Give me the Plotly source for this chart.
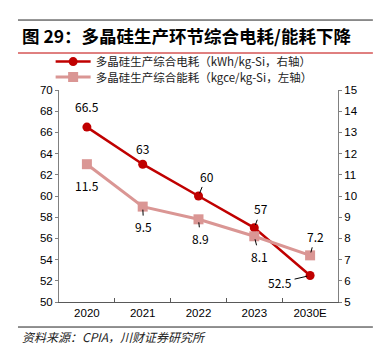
import plotly.graph_objects as go

categories = ["2020", "2021", "2022", "2023", "2030E"]
power = [66.5, 63, 60, 57, 52.5]          # kWh/kg-Si (plotted on left scale)
energy = [11.5, 9.5, 8.9, 8.1, 7.2]       # kgce/kg-Si (plotted on right scale)
power_name = "多晶硅生产综合电耗（kWh/kg-Si，右轴）"
energy_name = "多晶硅生产综合能耗（kgce/kg-Si，左轴）"
title_text = "图 29：多晶硅生产环节综合电耗/能耗下降"
source_text = "资料来源：CPIA，川财证券研究所"

RED = "#C00000"
PINK = "#DA9694"
CJK = "Noto Sans CJK SC"
LAT = "Liberation Sans, Arial"

fig = go.Figure()
fig.add_trace(go.Scatter(
    x=categories, y=energy, name=energy_name, yaxis="y2", mode="lines+markers",
    line=dict(color=PINK, width=3), marker=dict(symbol="square", size=10, color=PINK),
    legend="legend2"))
fig.add_trace(go.Scatter(
    x=categories, y=power, name=power_name, yaxis="y", mode="lines+markers",
    line=dict(color=RED, width=2.5), marker=dict(symbol="circle", size=9, color=RED),
    legend="legend"))

# label styles (pixel offsets) per point
power_offsets = [(0, -21, False), (0, -16, False), (8, -20, True), (7, -19, True), (-30, 7, True)]
energy_offsets = [(0, 21, False), (1, 20, True), (2, 19, True), (5, 20, True), (5, -19, True)]


def label(idx, v, yref, ax, ay, arrow):
    a = dict(x=idx, y=v, xref="x", yref=yref, text=f"{v:g}",
             font=dict(family=CJK, size=12, color="#000"))
    if arrow:
        a.update(showarrow=True, ax=ax, ay=ay, arrowhead=0, arrowwidth=1,
                 arrowcolor="#000", standoff=3, startstandoff=1)
    else:
        a.update(showarrow=False, yshift=-ay, xshift=ax)
    return a


annotations = []
for i, (v, (ax, ay, arrow)) in enumerate(zip(power, power_offsets)):
    annotations.append(label(i, v, "y", ax, ay, arrow))
for i, (v, (ax, ay, arrow)) in enumerate(zip(energy, energy_offsets)):
    annotations.append(label(i, v, "y2", ax, ay, arrow))

# title and source
annotations.append(dict(text=f"<b>{title_text}</b>", xref="paper", yref="paper",
                        x=-0.14, y=1.255, xanchor="left", yanchor="middle", showarrow=False,
                        font=dict(family=CJK, size=17.5, color="#000")))
annotations.append(dict(text=f"<i>{source_text}</i>", xref="paper", yref="paper",
                        x=-0.14, y=-0.162, xanchor="left", yanchor="middle", showarrow=False,
                        font=dict(family=CJK, size=12, color="#222")))

shapes = [
    dict(type="line", xref="paper", yref="paper", x0=-0.147, x1=1.125, y0=1.330, y1=1.330,
         line=dict(color="#222", width=1)),
    dict(type="line", xref="paper", yref="paper", x0=-0.147, x1=1.125, y0=1.1745, y1=1.1745,
         line=dict(color=RED, width=1)),
    dict(type="line", xref="paper", yref="paper", x0=-0.147, x1=1.125, y0=-0.118, y1=-0.118,
         line=dict(color="#222", width=1)),
]

legend_common = dict(font=dict(family=CJK, size=11.5, color="#222"), bgcolor="rgba(0,0,0,0)",
                     xanchor="left", yanchor="middle", itemwidth=35, orientation="v")

fig.update_layout(
    width=385, height=347,
    margin=dict(l=59, r=47, t=90, b=45),
    paper_bgcolor="white", plot_bgcolor="white",
    showlegend=True,
    legend=dict(x=-0.03, y=1.134, **legend_common),
    legend2=dict(x=-0.03, y=1.061, **legend_common),
    xaxis=dict(type="category", categoryorder="array", categoryarray=categories,
               range=[-0.5, 4.5], showline=True, linecolor="#595959", linewidth=1,
               ticks="inside", tickson="boundaries", ticklen=4, tickcolor="#595959",
               showgrid=False, zeroline=False,
               tickfont=dict(family=LAT, size=11.5, color="#000")),
    yaxis=dict(range=[50, 70], dtick=2, showline=True, linecolor="#808080", linewidth=1,
               ticks="outside", ticklen=3, tickcolor="#808080", showgrid=False, zeroline=False,
               tickfont=dict(family=LAT, size=11.5, color="#000")),
    yaxis2=dict(range=[5, 15], dtick=1, overlaying="y", side="right", showline=True,
                linecolor="#808080", linewidth=1, ticks="outside", ticklen=3,
                tickcolor="#808080", showgrid=False, zeroline=False,
                tickfont=dict(family=LAT, size=11.5, color="#000")),
    annotations=annotations, shapes=shapes,
)

fig.write_html("out.html")
